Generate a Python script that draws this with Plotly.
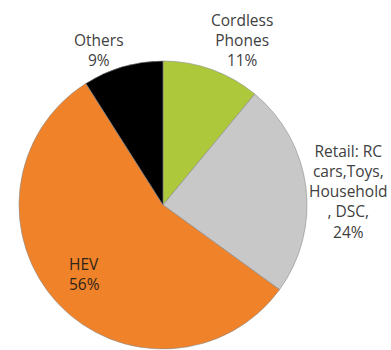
import plotly.graph_objects as go

labels = ["Cordless<br>Phones", "Retail: RC<br>cars,Toys,<br>Household<br>, DSC,", "HEV", "Others"]
values = [11, 24, 56, 9]
colors = ["#adc93b", "#c8c8c8", "#f0822a", "#000000"]
# label anchor positions (page px) for each slice label
label_x = [242, 348, 67, 99]
label_y = [40, 191, 274, 50]
label_align = ["center", "center", "left", "center"]

W, H = 391, 350
fig = go.Figure(go.Pie(
    labels=labels, values=values, sort=False, direction="clockwise", rotation=0,
    marker=dict(colors=colors, line=dict(color="#8a8a8a", width=0.6)),
    textinfo="none", hoverinfo="label+percent", showlegend=False,
    domain=dict(x=[19 / W, 307 / W], y=[1 / H, 289 / H]),
))

anns = []
for lab, v, x, y, al in zip(labels, values, label_x, label_y, label_align):
    anns.append(dict(
        text=f"{lab}<br>{v}%", x=x / W, y=1 - y / H, xref="paper", yref="paper",
        xanchor="left" if al == "left" else "center", yanchor="middle", align=al,
        showarrow=False,
        font=dict(family="Open Sans", size=15.5, color="#2e2418" if al == "left" else "#404040"),
    ))

fig.update_layout(
    width=W, height=H, margin=dict(l=0, r=0, t=0, b=0),
    paper_bgcolor="white", plot_bgcolor="white", annotations=anns,
)
fig.write_html("out.html", config={"displayModeBar": False},
               post_script="document.body.style.margin='0';")
